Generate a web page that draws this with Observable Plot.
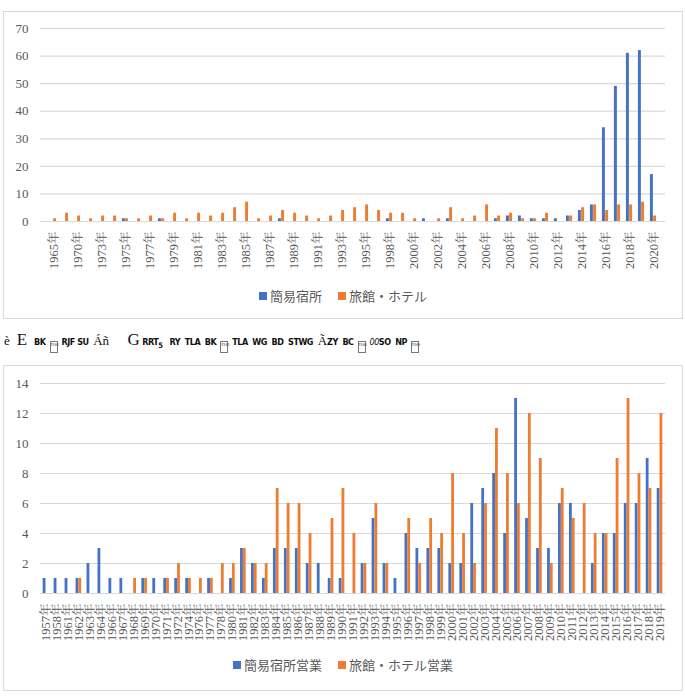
<!DOCTYPE html>
<html>
<head>
<meta charset="utf-8">
<script src="https://cdn.jsdelivr.net/npm/d3@7"></script>
<script src="https://cdn.jsdelivr.net/npm/@observablehq/plot@0.6"></script>
<style>
  body { margin: 0; background: #fff; width: 685px; height: 696px; position: relative; overflow: hidden;
         font-family: "Liberation Serif", "Noto Sans CJK JP", serif; }
  .box { position: absolute; left: 3px; width: 678px; border: 1px solid #d9d9d9; background: #fff; }
  #top { top: 11px; height: 306px; }
  #bottom { top: 365px; height: 324px; }
  .box svg { position: absolute; left: 0; top: 0; }
  .box svg text { font-family: "Liberation Serif", "Noto Serif CJK JP", "Noto Sans CJK JP", serif; }
  .legend { position: absolute; left: 0; right: 0; display: flex; justify-content: center; gap: 16px;
            font-family: "Noto Sans CJK JP", sans-serif; font-size: 13px; line-height: 16px; color: #595959; }
  .legend span.sw { display: inline-block; width: 8px; height: 8px; margin-right: 3px; vertical-align: 1px; }
  #caption { position: absolute; top: 331px; left: 4px; height: 18px; white-space: nowrap;
             font-family: "DejaVu Sans Condensed", "DejaVu Sans", sans-serif; font-size: 9px; font-weight: bold;
             color: #111; line-height: 18px; letter-spacing: -0.5px; }
  #caption .big { font-family: "Liberation Serif", serif; font-weight: normal; font-size: 17px; letter-spacing: 0; }
  #caption .mid { font-family: "Liberation Serif", serif; font-weight: normal; font-size: 13px; letter-spacing: 0; }
  #caption .tofu { display: inline-block; width: 6px; height: 10px; border: 1px solid #777; vertical-align: -1px;
                   margin: 0 4px; font-size: 4px; line-height: 5px; color: #555; text-align: center; font-weight: normal; }
</style>
</head>
<body>
<div class="box" id="top"></div>
<div id="caption"><span class="mid">è</span>&nbsp;&nbsp;&nbsp;<span class="big">E</span>&nbsp;&nbsp;&nbsp;BK<span class="tofu">E3 64</span>RJF SU&nbsp;&nbsp;<span class="mid">Áñ</span>&nbsp;&nbsp;&nbsp;&nbsp;&nbsp;&nbsp;&nbsp;&nbsp;<span class="big">G</span>&nbsp;RRT<sub>5</sub>&nbsp;&nbsp;&nbsp;RY&nbsp;&nbsp;TLA&nbsp;&nbsp;BK<span class="tofu">E3 64</span>TLA&nbsp;&nbsp;WG&nbsp;&nbsp;BD&nbsp;&nbsp;STWG&nbsp;&nbsp;<span class="mid">Ã</span>ZY&nbsp;&nbsp;BC<span class="tofu">E3 68</span><i style="font-weight:normal">00</i>SO&nbsp;&nbsp;NP<span class="tofu">E3 69</span></div>
<div class="box" id="bottom"></div>

<script>
// Upper chart: openings per year, 簡易宿所 vs 旅館・ホテル
const topYears = ["1965","1968","1970","1972","1973","1974","1975","1976","1977","1978","1979","1980",
  "1981","1982","1983","1984","1985","1986","1987","1988","1989","1990","1991","1992","1993","1994",
  "1995","1997","1998","1999","2000","2001","2002","2003","2004","2005","2006","2007","2008","2009",
  "2010","2011","2012","2013","2014","2015","2016","2017","2018","2019","2020"];
const topKani = [0,0,0,0,0,0, 1,0,0,1, 0,0,0,0,0,0,0,0,0, 1, 0,0,0,0,0,0,0,0,
  1,0,0,1,0,1,0,0,0,1,2,2,1,1,1,2,4,6,34,49,61,62,17];
const topRyokan = [1,3,2,1,2,2,1,1,2,1, 3,1,3,2,3,5,7,1,2,4, 3,2,1,2,4,5,6,4,3,3,
  1,0,1,5,1,2,6,2,3,1, 1,3,0,2,5,6,4,6,6,7, 2];
const topLabeled = topYears.filter((d, i) => i % 2 === 0);
const topSeries = ["簡易宿所", "旅館・ホテル"];

// Lower chart: 簡易宿所営業 vs 旅館・ホテル営業
const bottomYears = ["1957","1958","1961","1962","1963","1964","1966","1967","1968","1969","1970",
  "1971","1972","1974","1976","1977","1978","1980","1981","1982","1983","1984","1985","1986","1987",
  "1988","1989","1990","1991","1992","1993","1994","1995","1996","1997","1998","1999","2000","2001",
  "2002","2003","2004","2005","2006","2007","2008","2009","2010","2011","2012","2013","2014","2015",
  "2016","2017","2018","2019"];
const bottomKani = [1,1,1,1,2,3,1,1,0,1,1,1,1,1,0,1,0,1,3,
  2,1,3,3,3,2,2,1,1,0,
  2,5,2,1,4,3,3,3,
  2,2,6,7,8,4,13,5,3,3,6,6,0,2,4,4,6,6,9,7];
const bottomRyokan = [0,0,0,1,0,0,0,0,1,1,0,1,2,1,1,1,2,2,3,
  2,2,7,6,6,4,0,5,7,4,
  2,6,2,0,5,2,5,4,
  8,4,2,6,11,8,6,12,9,2,7,5,6,4,4,9,13,8,7,12];
const bottomSeries = ["簡易宿所営業", "旅館・ホテル営業"];

const colors = ["#4472c4", "#ed7d31"];
const font = '"Liberation Serif", "Noto Sans CJK JP", serif';

function groupedColumns({years, first, second, labeled, yMax, yStep, marginTop, plotHeight, marginBottom, barW, labelSize}) {
  const width = 678, marginLeft = 36, marginRight = 17;
  const rowsA = years.map((year, i) => ({year, value: first[i]}));
  const rowsB = years.map((year, i) => ({year, value: second[i]}));
  const half = (width - marginLeft - marginRight) / years.length / 2;
  return Plot.plot({
    width,
    height: marginTop + plotHeight + marginBottom,
    marginLeft, marginRight, marginTop, marginBottom,
    style: {fontFamily: font, background: "transparent"},
    x: {type: "band", domain: years, padding: 0},
    y: {domain: [0, yMax]},
    marks: [
      Plot.gridY(d3.range(0, yMax + 1, yStep), {stroke: "#d9d9d9", strokeOpacity: 1, strokeWidth: 1.2}),
      Plot.axisY(d3.range(0, yMax + 1, yStep), {tickSize: 0, tickPadding: 12, fontSize: 13, fill: "#595959",
                                                fontFamily: font, label: null}),
      Plot.axisX(labeled, {tickSize: 0, tickPadding: 10, tickRotate: -90, fontSize: labelSize, fill: "#595959",
                           fontFamily: font, tickFormat: d => d + "年", label: null}),
      Plot.barY(rowsA, {x: "year", y: "value", fill: colors[0], insetLeft: half - barW, insetRight: half}),
      Plot.barY(rowsB, {x: "year", y: "value", fill: colors[1], insetLeft: half, insetRight: half - barW})
    ]
  });
}

function legend(names, top) {
  const el = document.createElement("div");
  el.className = "legend";
  el.style.top = top + "px";
  names.forEach((name, i) => {
    const item = document.createElement("div");
    const sw = document.createElement("span");
    sw.className = "sw";
    sw.style.background = colors[i];
    item.appendChild(sw);
    item.appendChild(document.createTextNode(name));
    el.appendChild(item);
  });
  return el;
}

const topBox = document.getElementById("top");
topBox.appendChild(groupedColumns({
  years: topYears, first: topKani, second: topRyokan, labeled: topLabeled,
  yMax: 70, yStep: 10, marginTop: 16, plotHeight: 193, marginBottom: 60, barW: 3.2, labelSize: 12.5
}));
topBox.appendChild(legend(topSeries, 276));

const bottomBox = document.getElementById("bottom");
bottomBox.appendChild(groupedColumns({
  years: bottomYears, first: bottomKani, second: bottomRyokan, labeled: bottomYears,
  yMax: 14, yStep: 2, marginTop: 17, plotHeight: 210, marginBottom: 60, barW: 2.8, labelSize: 12.5
}));
bottomBox.appendChild(legend(bottomSeries, 291));
</script>
</body>
</html>
